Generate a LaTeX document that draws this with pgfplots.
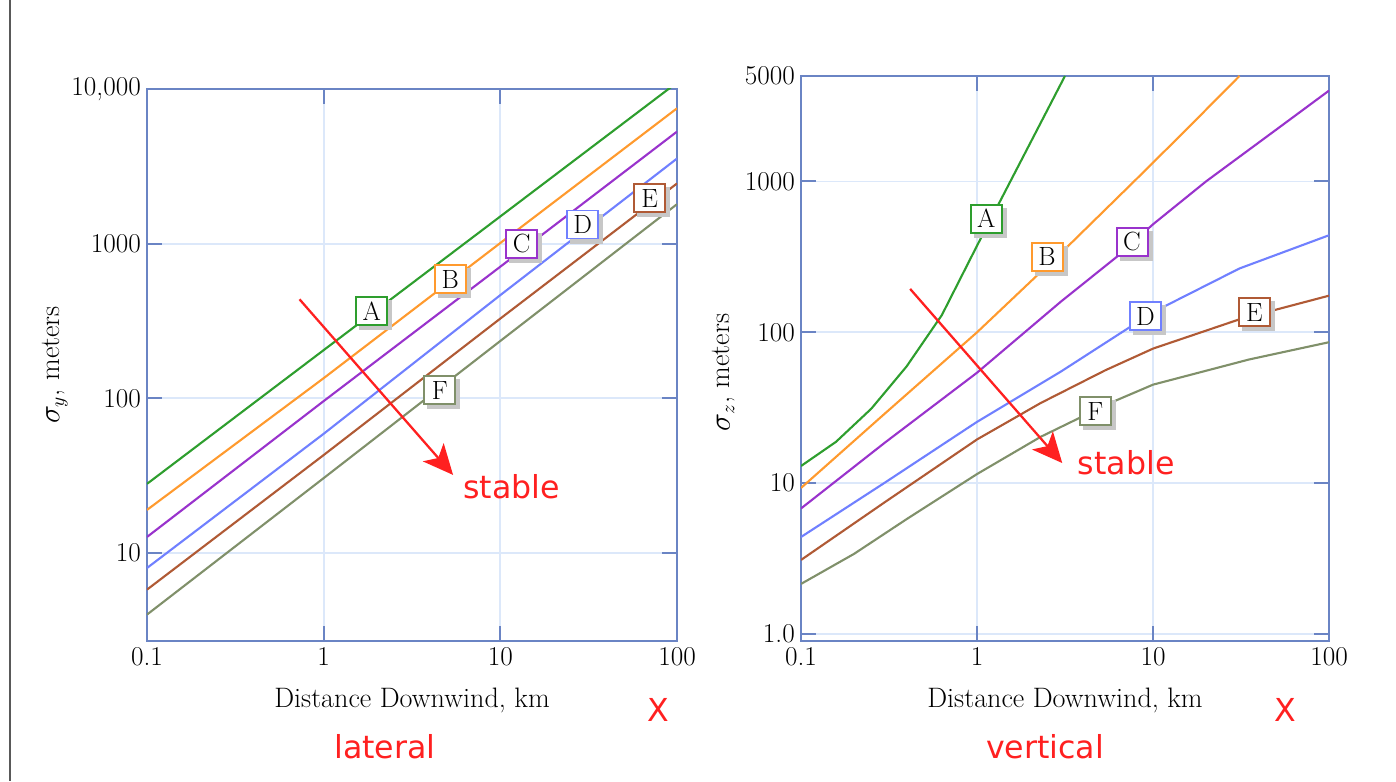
\documentclass[border=0pt]{standalone}
\usepackage{fontspec}
\usepackage{pgfplots}
\pgfplotsset{compat=1.18}
\usetikzlibrary{arrows.meta}
\newfontfamily\redsans{DejaVu Sans}

\definecolor{axisblue}{HTML}{6A84C4}
\definecolor{gridblue}{HTML}{DCE8FA}
\definecolor{cA}{HTML}{2E9E2E}
\definecolor{cB}{HTML}{FF9A2E}
\definecolor{cC}{HTML}{9933CC}
\definecolor{cD}{HTML}{7080FF}
\definecolor{cE}{HTML}{B05A35}
\definecolor{cF}{HTML}{80906A}
\definecolor{redtxt}{HTML}{FF2020}

\tikzset{
  lbl/.style={draw=#1, line width=1.1pt, fill=white, minimum width=0.62cm,
    minimum height=0.56cm, inner sep=1pt, font=\fontsize{15}{17}\selectfont},
  shd/.style={fill=black!22, minimum width=0.66cm, minimum height=0.60cm,
    inner sep=0pt, xshift=0.08cm, yshift=-0.08cm},
  arr/.style={draw=redtxt, line width=1.3pt, -{Stealth[length=0.6cm, width=0.55cm, inset=0.15cm]}},
  redlbl/.style={text=redtxt, font=\redsans\fontsize{18}{20}\selectfont},
}
\newcommand\classbox[3]{%
  \node[shd] at (axis cs:#2) {};
  \node[lbl=#1] at (axis cs:#2) {#3};}

\begin{document}
\begin{tikzpicture}
\path[use as bounding box] (0,0) rectangle (27.92cm,15.62cm);
\fill[black!65] (0.17cm,0) rectangle (0.23cm,15.62cm);

% lateral
\begin{axis}[
  scale only axis, anchor=south west,
  at={(2.94cm,2.80cm)}, width=10.60cm, height=11.04cm,
  xmode=log, ymode=log,
  xmin=0.1, xmax=100, ymin=2.7, ymax=10000,
  xtick={0.1,1,10,100}, xticklabels={0.1,1,10,100},
  ytick={10,100,1000,10000}, yticklabels={10,100,1000,{10,000}},
  xminorticks=false, yminorticks=false,
  grid=major,
  major grid style={draw=gridblue, line width=1pt},
  axis line style={draw=axisblue, line width=1.1pt},
  tick style={draw=axisblue, line width=1.1pt},
  major tick length=0.3cm, tick align=inside,
  ticklabel style={font=\fontsize{15.5}{17}\selectfont},
  label style={font=\fontsize{16}{18}\selectfont},
  xlabel={Distance Downwind, km},
  xlabel style={at={(axis description cs:0.5,0)}, anchor=center, yshift=-1.18cm},
  ylabel={$\sigma_y$, meters},
  ylabel style={at={(axis description cs:-0.174,0.5)}, anchor=center},
]
\addplot[cA, line width=1.2pt] coordinates {(0.1,28) (1,205) (10,1500) (100,11000)};
\addplot[cB, line width=1.2pt] coordinates {(0.1,19) (1,135) (10,1010) (100,7500)};
\addplot[cC, line width=1.2pt] coordinates {(0.1,12.7) (1,96) (10,710) (100,5300)};
\addplot[cD, line width=1.2pt] coordinates {(0.1,8) (1,59) (10,465) (100,3550)};
\addplot[cE, line width=1.2pt] coordinates {(0.1,5.8) (1,43) (10,328) (100,2450)};
\addplot[cF, line width=1.2pt] coordinates {(0.1,4) (1,30.5) (10,235) (100,1800)};
\draw[arr] (axis cs:0.73,437) -- (axis cs:5.4,32);
\node[redlbl, anchor=west] at (axis cs:5.7,27) {stable};
\classbox{cA}{1.87,365}{A}
\classbox{cB}{5.2,590}{B}
\classbox{cC}{13.2,1000}{C}
\classbox{cD}{29.3,1330}{D}
\classbox{cE}{70,1970}{E}
\classbox{cF}{4.55,113}{F}
\end{axis}

% vertical
\begin{axis}[
  scale only axis, anchor=south west,
  at={(16.02cm,2.80cm)}, width=10.56cm, height=11.30cm,
  xmode=log, ymode=log,
  xmin=0.1, xmax=100, ymin=0.9, ymax=5000,
  xtick={0.1,1,10,100}, xticklabels={0.1,1,10,100},
  ytick={1,10,100,1000,5000}, yticklabels={1.0,10,100,1000,5000},
  xminorticks=false, yminorticks=false,
  grid=major,
  major grid style={draw=gridblue, line width=1pt},
  axis line style={draw=axisblue, line width=1.1pt},
  tick style={draw=axisblue, line width=1.1pt},
  major tick length=0.3cm, tick align=inside,
  ticklabel style={font=\fontsize{15.5}{17}\selectfont},
  label style={font=\fontsize{16}{18}\selectfont},
  xlabel={Distance Downwind, km},
  xlabel style={at={(axis description cs:0.5,0)}, anchor=center, yshift=-1.18cm},
  ylabel={$\sigma_z$, meters},
  ylabel style={at={(axis description cs:-0.146,0.475)}, anchor=center},
]
\addplot[cA, line width=1.2pt] coordinates {(0.1,13) (0.158,18.8) (0.251,31.2) (0.398,59.4) (0.631,130) (1,375) (1.585,1057) (2.512,2980) (3.16,5000)};
\addplot[cB, line width=1.2pt] coordinates {(0.1,9.3) (0.3,29) (1,100) (3.3,374) (7.8,1000) (15,2130) (31,5000)};
\addplot[cC, line width=1.2pt] coordinates {(0.1,6.8) (0.3,18.6) (1,54) (3,160) (6.3,320) (10,520) (20,1000) (50,2200) (100,4000)};
\addplot[cD, line width=1.2pt] coordinates {(0.1,4.4) (0.3,10.1) (1,25.5) (3,55) (10,136) (31,265) (100,440)};
\addplot[cE, line width=1.2pt] coordinates {(0.1,3.1) (0.3,7.5) (1,19.5) (2.3,34) (5.35,56) (10,78) (31,122) (100,175)};
\addplot[cF, line width=1.2pt] coordinates {(0.1,2.15) (0.2,3.4) (0.4,5.8) (1,11.5) (2.3,20.3) (5.7,34) (10,45) (35,66) (100,86)};
\draw[arr] (axis cs:0.417,194) -- (axis cs:3.05,13.6);
\node[redlbl, anchor=west] at (axis cs:3.45,13.6) {stable};
\classbox{cA}{1.13,567}{A}
\classbox{cB}{2.5,316}{B}
\classbox{cC}{7.6,398}{C}
\classbox{cD}{9.05,128}{D}
\classbox{cE}{37.7,136}{E}
\classbox{cF}{4.7,30}{F}
\end{axis}

\node[redlbl] at (7.70cm,0.68cm) {lateral};
\node[redlbl] at (20.90cm,0.68cm) {vertical};
\node[redlbl] at (13.16cm,1.42cm) {X};
\node[redlbl] at (25.70cm,1.42cm) {X};
\end{tikzpicture}
\end{document}
